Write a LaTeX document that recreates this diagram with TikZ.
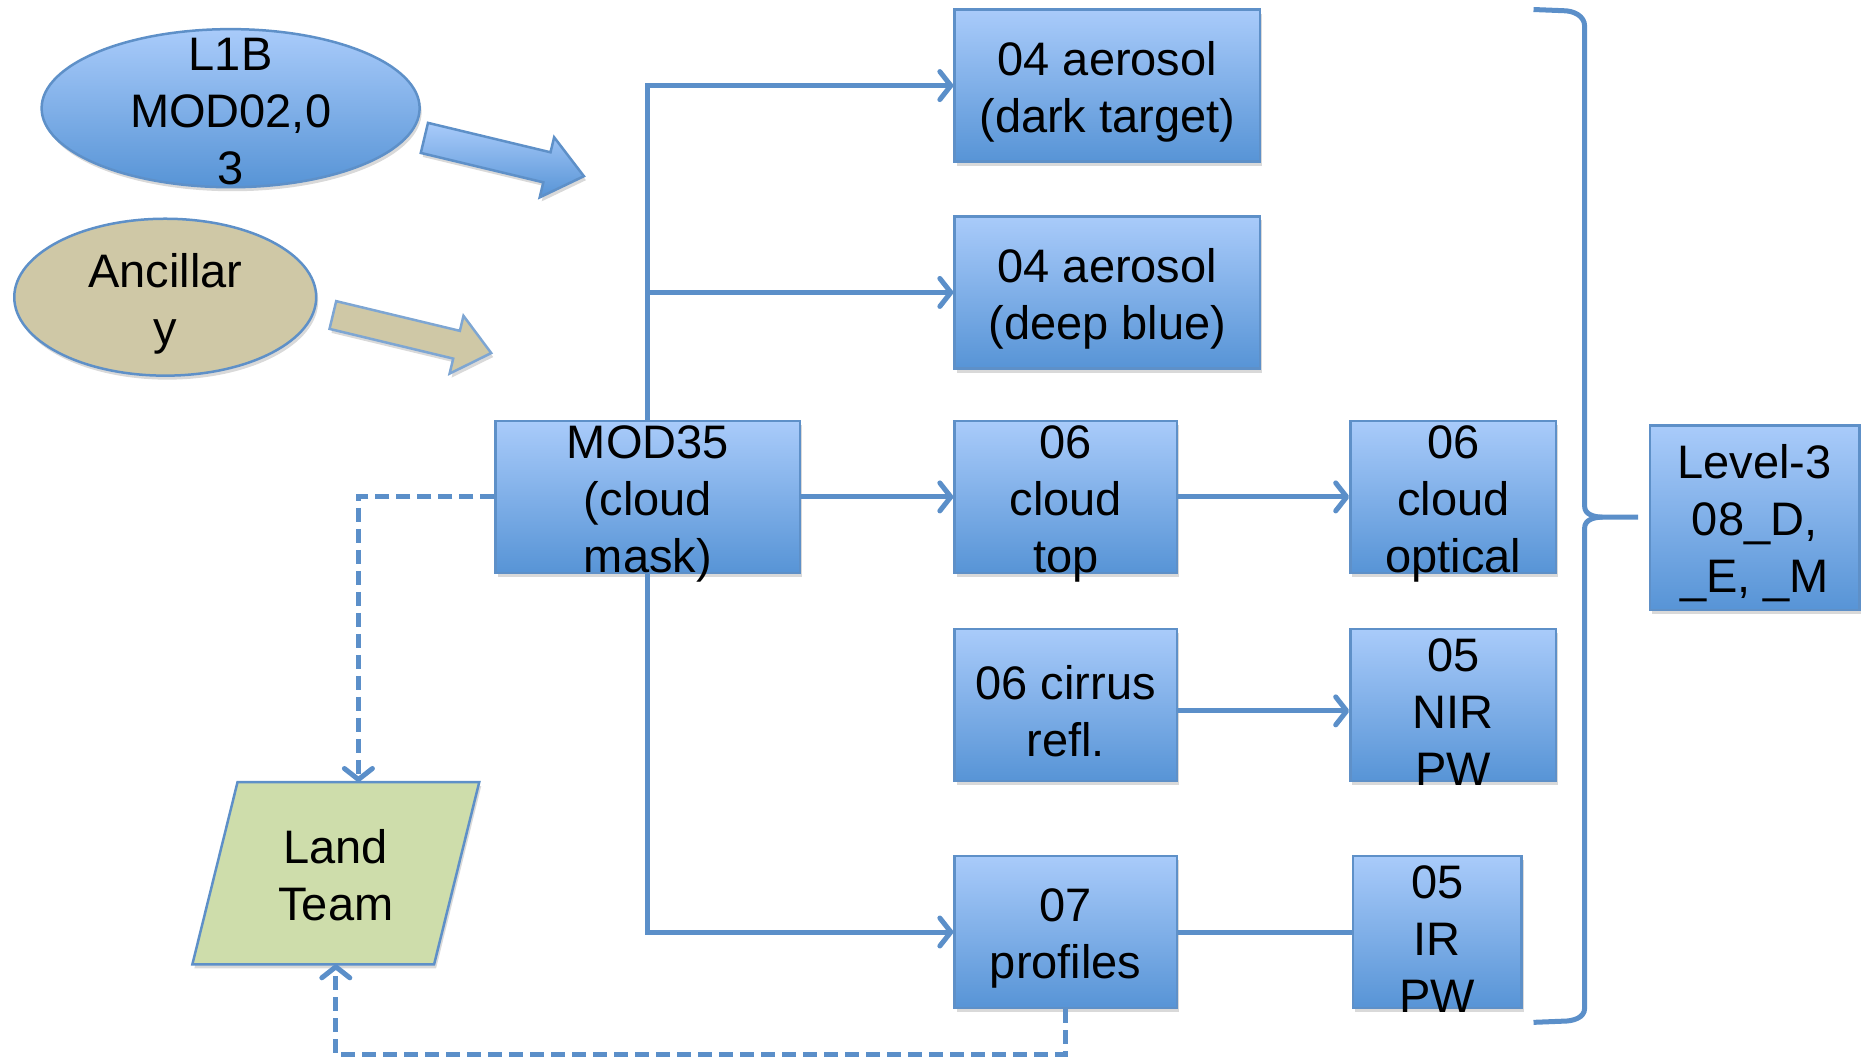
\documentclass[tikz,border=0pt]{standalone}
\usepackage{fontspec}
\setmainfont{Liberation Sans}
\usetikzlibrary{arrows.meta,shapes.geometric,shadows,calc}
\definecolor{lineblue}{HTML}{5B8FC9}
\definecolor{boxtop}{HTML}{A9CBFA}
\definecolor{boxbot}{HTML}{5794D6}
\definecolor{boxedge}{HTML}{5E90C8}
\definecolor{tanfill}{HTML}{CFC8A6}
\definecolor{landgreen}{HTML}{CEDDAB}
\begin{document}
\begin{tikzpicture}[x=1.1888pt,y=-1.1888pt,
  font=\fontsize{47}{57}\selectfont,
  sz/.style 2 args={minimum width=#1*1.1888pt, minimum height=#2*1.1888pt},
  shad/.style={drop shadow={opacity=0.3, shadow xshift=2pt, shadow yshift=-4pt}},
  txt/.style={align=center, inner sep=0pt, yshift=-#1},
  txt/.default=6pt,
  procbox/.style={rectangle, draw=boxedge, line width=2.5pt, top color=boxtop, bottom color=boxbot, inner sep=0pt, shad},
  blueell/.style={ellipse, draw=boxedge, line width=2.5pt, top color=boxtop, bottom color=boxbot, inner sep=0pt, shad},
  tanell/.style={ellipse, draw=boxedge, line width=2.5pt, fill=tanfill, inner sep=0pt, shad},
  landnode/.style={rectangle, inner sep=0pt},
  conn/.style={draw=lineblue, line width=5pt},
  arr/.style={-{Straight Barb[length=11pt,width=28pt,round]}},
  dashline/.style={dash pattern=on 14pt off 7pt},
  bracestyle/.style={draw=lineblue, line width=5pt},
  blockblue/.style={draw=boxedge, line width=2.5pt, top color=boxtop, bottom color=boxbot, shad},
  blocktan/.style={draw=boxedge!80, line width=2.5pt, fill=tanfill, shad}
]
\useasboundingbox (0,0) rectangle (1568,893);

% block arrows
\begin{scope}[shift={(357,116)}, rotate=-13.5]
  \path[blockblue] (0,-13) -- (106,-13) -- (106,-26) -- (138,0) -- (106,26) -- (106,13) -- (0,13) -- cycle;
\end{scope}
\begin{scope}[shift={(280,265)}, rotate=-13.5]
  \path[blocktan] (0,-12) -- (107,-12) -- (107,-25) -- (137,0) -- (107,25) -- (107,12) -- (0,12) -- cycle;
\end{scope}

% nodes
\node[blueell, sz={318}{133}, label={[txt=3pt]center:{L1B\\MOD02,0\\3}}] (l1b) at (194,91) {};
\node[tanell, sz={254}{132}, label={[txt=7pt]center:{Ancillar\\y}}] (anc) at (139,250) {};

\node[landnode, sz={203}{153}] (land) at (282.5,734.5) {};
\path[draw=boxedge, line width=2.5pt, fill=landgreen, shad]
  ($(land.north west)+(19,0)$) -- ($(land.north east)+(19,0)$) --
  ($(land.south east)+(-19,0)$) -- ($(land.south west)+(-19,0)$) -- cycle;
\node[txt=2pt] (landtext) at (land) {Land\\Team};

\node[procbox, sz={257}{128}, label={[txt]center:{04 aerosol\\(dark target)}}] (a1) at (931.5,72) {};
\node[procbox, sz={257}{128}, label={[txt]center:{04 aerosol\\(deep blue)}}] (a2) at (931.5,246) {};
\node[procbox, sz={256}{128}, label={[txt=7pt]center:{MOD35\\(cloud\\mask)}}] (mod) at (545,418) {};
\node[procbox, sz={187}{128}, label={[txt=7pt]center:{06\\cloud\\top}}] (c1) at (896.5,418) {};
\node[procbox, sz={173}{128}, label={[txt=7pt]center:{06\\cloud\\optical}}] (c2) at (1222.5,418) {};
\node[procbox, sz={187}{128}, label={[txt]center:{06 cirrus\\refl.}}] (cir) at (896.5,593) {};
\node[procbox, sz={173}{128}, label={[txt=7pt]center:{05\\NIR\\PW}}] (nir) at (1222.5,593) {};
\node[procbox, sz={187}{128}, label={[txt]center:{07\\profiles}}] (prof) at (896.5,784) {};
\node[procbox, sz={142}{128}, label={[txt=7pt]center:{05\\IR\\PW}}] (ir) at (1209,784) {};
\node[procbox, sz={176}{155}, label={[txt=5pt]center:{Level-3\\08\_D,\\\_E, \_M}}] (l3) at (1476,435.5) {};

% connectors
\draw[conn, arr] (mod.north) |- (a1.west);
\draw[conn, arr] (mod.north) |- (a2.west);
\draw[conn, arr] (mod.south) |- (prof.west);
\draw[conn, arr] (mod.east) -- (c1.west);
\draw[conn, arr] (c1.east) -- (c2.west);
\draw[conn, arr] ($(cir.east)+(0,5)$) -- ($(nir.west)+(0,5)$);
\draw[conn] (prof.east) -- (ir.west);
\draw[conn, dashline, arr] (mod.west) -| ($(land.north)+(19,0)$);
\draw[conn, dashline, arr] (prof.south) -- ++(0,38) -| (land.south);

% brace
\coordinate (btop) at (1290,8);
\coordinate (bbot) at (1290,860);
\coordinate (btip) at (1378,435);
\draw[bracestyle] (btop) -- (1315,9) to[out=0,in=90] (1333,22) -- (1333,426)
  to[out=-90,in=180] (1348,435) -- (btip);
\draw[bracestyle] (1348,435) to[out=180,in=90] (1333,444) -- (1333,848)
  to[out=-90,in=0] (1315,859) -- (bbot);
\end{tikzpicture}
\end{document}
